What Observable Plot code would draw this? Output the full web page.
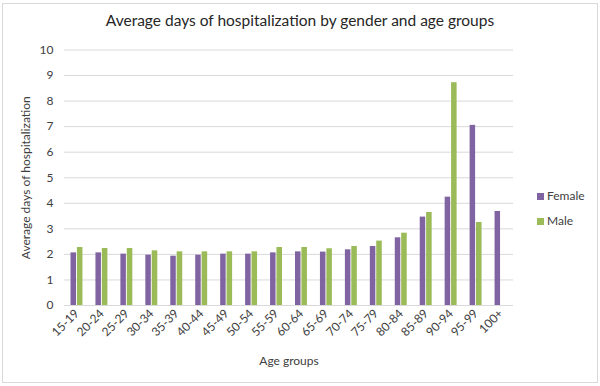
<!DOCTYPE html>
<html><head><meta charset="utf-8">
<script src="https://cdn.jsdelivr.net/npm/d3@7"></script>
<script src="https://cdn.jsdelivr.net/npm/@observablehq/plot@0.6"></script>
<style>
body{margin:0;background:#fff;}
#wrap{position:relative;width:600px;height:386px;font-family:Lato,"Open Sans",sans-serif;color:#404040;overflow:hidden;}
#frame{position:absolute;left:2px;top:3px;width:596px;height:380px;border:1px solid #d9d9d9;box-sizing:border-box;}
#title{position:absolute;top:10px;left:0;width:600px;text-align:center;font-size:15.5px;line-height:20px;color:#262626;}
#chart{position:absolute;top:38px;left:0;}
.leg{position:absolute;left:537px;font-size:12px;line-height:14px;}
.leg span{display:inline-block;width:7px;height:7px;margin-right:3px;vertical-align:0px;}
</style></head>
<body><div id="wrap"><div id="frame"></div>
<div id="title">Average days of hospitalization by gender and age groups</div>
<div id="chart"></div>
<div class="leg" style="top:189px"><span style="background:#8064A2"></span>Female</div>
<div class="leg" style="top:214px"><span style="background:#9BBB59"></span>Male</div>
</div>
<script>
const ageGroups = ["15-19","20-24","25-29","30-34","35-39","40-44","45-49","50-54","55-59","60-64","65-69","70-74","75-79","80-84","85-89","90-94","95-99","100+"];
const female = [2.06,2.06,2.01,1.97,1.93,1.97,2.01,2.01,2.06,2.10,2.09,2.18,2.31,2.65,3.46,4.24,7.05,3.68];
const male   = [2.27,2.23,2.23,2.14,2.10,2.10,2.10,2.10,2.27,2.27,2.22,2.31,2.52,2.83,3.64,8.72,3.25,null];
const yTicks = [0,1,2,3,4,5,6,7,8,9,10];

const femaleData = ageGroups.map((a,i)=>({age:a, value:female[i]}));
const maleData = ageGroups.map((a,i)=>({age:a, value:male[i]})).filter(d=>d.value!=null);

const chart = Plot.plot({
  width: 600, height: 348,
  marginLeft: 64, marginRight: 87, marginTop: 11.5, marginBottom: 81,
  style: {fontFamily: "Lato, 'Open Sans', sans-serif", fontSize: "12px", color: "#404040", background: "transparent"},
  x: {domain: ageGroups, padding: 0, round: false},
  y: {domain: [0,10]},
  marks: [
    Plot.gridY(yTicks, {stroke: "#d9d9d9", strokeOpacity: 1}),
    Plot.axisY(yTicks, {tickSize: 0, tickPadding: 11, label: "Average days of hospitalization", labelAnchor: "center", labelOffset: 43, labelArrow: false}),
    Plot.axisX({tickSize: 0, tickPadding: 6, tickRotate: -45, label: "Age groups", labelAnchor: "center", labelOffset: 59, labelArrow: false}),
    Plot.barY(femaleData, {x: "age", y: "value", fill: "#8064A2", insetLeft: 6.5, insetRight: 12.95}),
    Plot.barY(maleData, {x: "age", y: "value", fill: "#9BBB59", insetLeft: 12.9, insetRight: 6.5})
  ]
});
document.getElementById("chart").appendChild(chart);
</script>
</body></html>
